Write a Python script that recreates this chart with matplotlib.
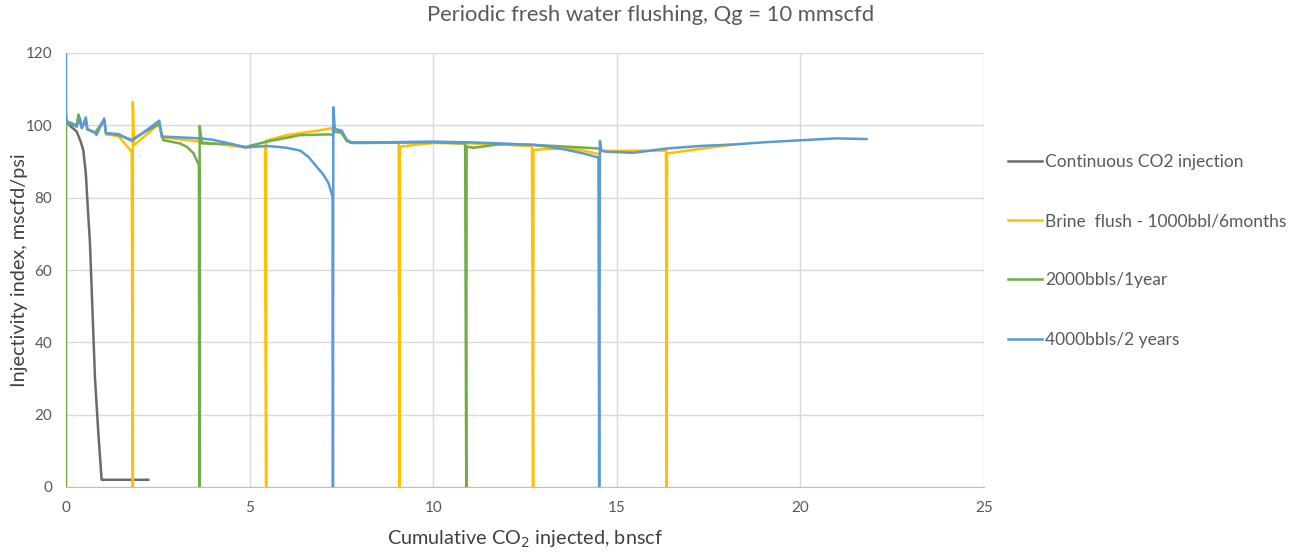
import matplotlib
matplotlib.use("Agg")
import matplotlib.pyplot as plt

plt.rcParams["font.family"] = ["Lato", "DejaVu Sans"]

# Continuous injection, no flushing
cont_x = [0, 0.15, 0.29, 0.4, 0.47, 0.54, 0.6, 0.65, 0.72, 0.79, 0.88, 0.97, 1.5, 2.24]
cont_y = [101, 99.5, 98.3, 95.5, 93.2, 86.7, 76, 68, 49, 30, 15, 2, 2, 2]

# Brine flush every 6 months
brine_x = [0, 0.1, 0.29, 0.34, 0.43, 0.54, 0.58, 0.8, 1.04, 1.09, 1.43, 1.79, 1.82, 1.82,
           1.85, 2.2, 2.54, 2.61, 3.29, 4.01, 4.88, 5.42, 5.45, 5.45, 5.5, 6.01, 6.83,
           7.22, 7.27, 7.35, 7.5, 7.65, 7.78, 8.5, 9.06, 9.08, 9.09, 9.5, 10.0, 11.0,
           12.0, 12.69, 12.72, 12.73, 13.0, 13.64, 14.0, 14.5, 14.6, 15.45, 16.34, 16.36,
           16.37, 17.27, 18.18]
brine_y = [101, 100.5, 99.8, 102.5, 99.2, 101.8, 98.9, 98, 101.5, 97.5, 97, 92.7, 0, 106.5,
           94.5, 97.5, 100.5, 96.7, 95.9, 95.0, 93.9, 94.3, 0, 95.8, 95.9, 97.3, 98.5,
           99.2, 98.5, 98.2, 98.0, 95.6, 95.2, 95.3, 95.3, 0, 94.1, 94.6, 95.1, 95.0,
           94.6, 94.3, 0, 93.2, 93.4, 93.6, 93.2, 92.1, 92.9, 93.0, 93.0, 0,
           92.2, 93.5, 94.7]

# 2000 bbls flush every year
fw1_x = [0, 0, 0.05, 0.29, 0.34, 0.43, 0.54, 0.58, 0.8, 1.04, 1.09, 1.43, 1.79, 2.2, 2.54,
         2.65, 3.1, 3.3, 3.47, 3.62, 3.63, 3.64, 3.7, 4.5, 4.88, 5.47, 6.38, 7.19, 7.26, 7.3,
         7.5, 7.65, 7.78, 9.0, 10.0, 10.87, 10.9, 10.91, 11.1, 11.83, 12.73, 13.64, 14.5]
fw1_y = [0, 100, 101, 100, 103, 99.5, 101, 98.9, 98, 101.5, 97.8, 97.3, 96, 98.5, 100.3,
         95.9, 95.0, 94.0, 92.3, 89, 0, 99.8, 95.0, 94.8, 94.0, 95.5, 97.3, 97.5, 97.2, 98.3,
         98.0, 95.7, 95.1, 95.2, 95.3, 95.0, 0, 94.1, 93.8, 94.8, 94.6, 94.1, 93.6]

# 4000 bbls flush every 2 years
fw2_x = [0, 0, 0.02, 0.1, 0.29, 0.38, 0.43, 0.54, 0.58, 0.79, 0.83, 1.04, 1.09, 1.43, 1.79,
         2.2, 2.54, 2.61, 3.65, 4.0, 4.4, 4.88, 5.47, 6.01, 6.38, 6.6, 6.83, 7.0, 7.15, 7.26,
         7.27, 7.28, 7.32, 7.45, 7.51, 7.65, 7.78, 8.5, 10.0, 11.0, 11.83, 12.73, 13.2, 13.64,
         14.1, 14.5, 14.52, 14.54, 14.58, 14.73, 15.45, 15.9, 16.37, 17.27, 18.18, 19.0,
         20.05, 21.0, 21.8]
fw2_y = [120, 104, 101, 100.5, 99.6, 101.9, 99.2, 102.2, 98.9, 98, 97.3, 101.9, 97.8, 97.6,
         95.7, 98.7, 101.3, 96.9, 96.4, 96.0, 95.1, 93.9, 94.3, 93.8, 93.0, 91.3, 88.5, 86.5,
         84, 80.2, 0, 105, 99, 98.7, 98.5, 95.9, 95.3, 95.3, 95.5, 95.3, 95.0, 94.6, 94.0,
         93.2, 92.2, 91.1, 0, 95.7, 93, 92.7, 92.4, 93.0, 93.6, 94.3, 94.7, 95.3,
         95.9, 96.4, 96.2]

fig = plt.figure(figsize=(13.02, 5.53), dpi=100)
ax = fig.add_axes([66 / 1302, 1 - 487 / 553, (984 - 66) / 1302, (487 - 53) / 553])

lw = 1.8
ax.plot(cont_x, cont_y, color="#6b6b6b", lw=lw, label="Continuous CO2 injection")
ax.plot(brine_x, brine_y, color="#FFC000", lw=lw, label="Brine  flush - 1000bbl/6months")
ax.plot(fw1_x, fw1_y, color="#70AD47", lw=lw, label="2000bbls/1year")
ax.plot(fw2_x, fw2_y, color="#5B9BD5", lw=lw, label="4000bbls/2 years")

ax.set_xlim(0, 25)
ax.set_ylim(0, 120)
ax.set_xticks(range(0, 26, 5))
ax.set_yticks(range(0, 121, 20))
ax.grid(True, color="#d9d9d9", lw=1)
ax.set_axisbelow(True)
for s in ["top", "right", "left"]:
    ax.spines[s].set_visible(False)
ax.spines["bottom"].set_color("#bfbfbf")
ax.tick_params(length=0, labelsize=11, colors="#595959", pad=10)

ax.set_xlabel("Cumulative CO$_2$ injected, bnscf", fontsize=14.3, color="#404040", va="center")
ax.xaxis.set_label_coords((525 - 66) / 918, -(539 - 487) / 434)
ax.set_ylabel("Injectivity index, mscfd/psi", fontsize=14.3, color="#404040", va="center")
ax.yaxis.set_label_coords(-(66 - 19) / 918, 0.5)
fig.text(0.5, 1 - 15 / 553, "Periodic fresh water flushing, Qg = 10 mmscfd",
         ha="center", va="center", fontsize=15.8, color="#595959")

fig.legend(loc="upper left", bbox_to_anchor=(992 / 1302, 1 - 138 / 553), frameon=False,
           fontsize=12.5, labelcolor="#595959", handlelength=2.0, handletextpad=0.15,
           labelspacing=2.5)

fig.savefig("out.png", dpi=100)
